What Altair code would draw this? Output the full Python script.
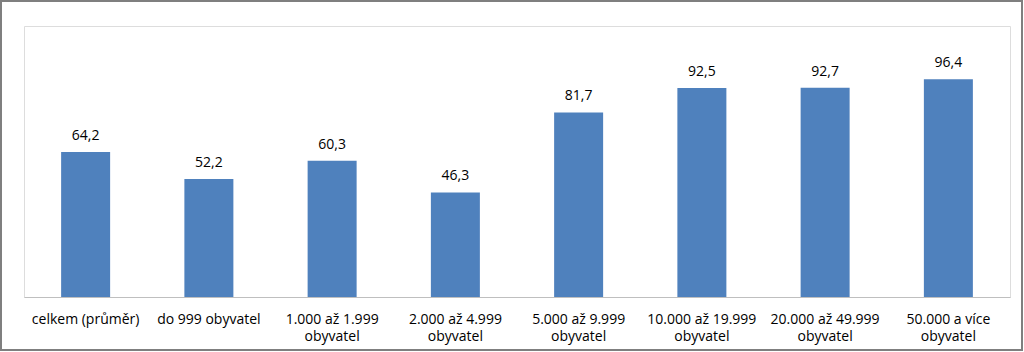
import altair as alt
import pandas as pd

categories = [
    "celkem (průměr)",
    "do 999 obyvatel",
    "1.000 až 1.999 obyvatel",
    "2.000 až 4.999 obyvatel",
    "5.000 až 9.999 obyvatel",
    "10.000 až 19.999 obyvatel",
    "20.000 až 49.999 obyvatel",
    "50.000 a více obyvatel",
]
values = [64.2, 52.2, 60.3, 46.3, 81.7, 92.5, 92.7, 96.4]

df = pd.DataFrame({
    "kat": categories,
    "val": values,
    "lbl": [f"{v:.1f}".replace(".", ",") for v in values],
})

FONT = "Open Sans"
FS = 14

x = alt.X(
    "kat:N",
    sort=categories,
    title=None,
    scale=alt.Scale(paddingInner=0, paddingOuter=0),
    axis=alt.Axis(
        labelAngle=0,
        ticks=False,
        domainColor="#BFBFBF",
        domainWidth=1,
        labelFont=FONT,
        labelFontSize=FS,
        labelColor="#000000",
        labelPadding=15,
        labelLineHeight=17,
        labelLimit=200,
        labelExpr="length(datum.label) > 16 ? [replace(datum.label, ' obyvatel', ''), 'obyvatel'] : datum.label",
    ),
)
y = alt.Y("val:Q", scale=alt.Scale(domain=[0, 120], nice=False), axis=None)

bars = alt.Chart(df).mark_bar(size=49, color="#4F81BD").encode(x=x, y=y)
text = alt.Chart(df).mark_text(
    dy=-9, baseline="bottom", font=FONT, fontSize=FS, color="#000000"
).encode(x=x, y=y, text="lbl:N")

border = alt.Chart(df).mark_rect(
    fill=None, stroke="#7F7F7F", strokeWidth=2
).encode(
    x=alt.value(-23), x2=alt.value(998), y=alt.value(-25), y2=alt.value(324)
)

chart = alt.layer(bars, text, border).properties(
    width=986,
    height=271,
    padding={"left": 24, "top": 26, "right": 14, "bottom": 55},
    autosize=alt.AutoSizeParams(type="none"),
).configure_view(stroke=None).configure(background="white")

chart.save("out.html", embed_options={"renderer": "svg", "actions": False})
